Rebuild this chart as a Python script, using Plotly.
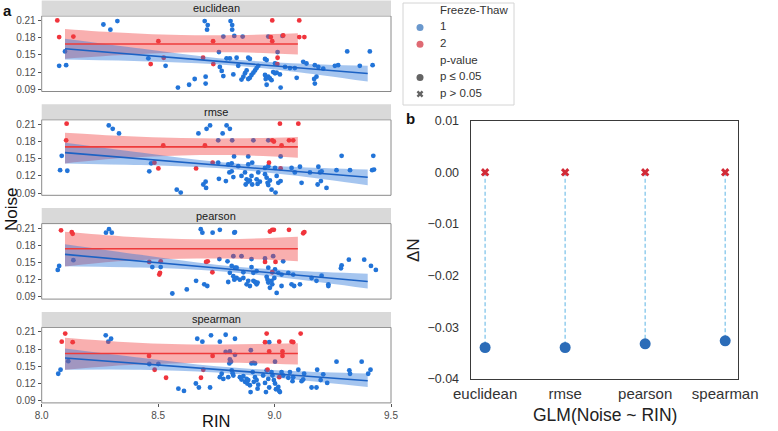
import plotly.graph_objects as go

# ---------------- data ----------------
metrics = ["euclidean", "rmse", "pearson", "spearman"]

# GLM slope of Noise ~ RIN per metric and Freeze-Thaw group (panel b)
delta_ft1 = [-0.0339, -0.0339, -0.0332, -0.0326]   # p <= 0.05
delta_ft2 = [0.0, 0.0, 0.0, 0.0]                   # p > 0.05

# scatter points (RIN, Noise)
euclidean_ft1 = [(8.100, 0.156), (8.075, 0.131), (8.105, 0.132), (8.265, 0.203), (8.295, 0.194), (8.325, 0.209),
    (8.458, 0.144), (8.532, 0.131), (8.585, 0.093), (8.633, 0.098), (8.657, 0.108), (8.704, 0.112), (8.704, 0.100),
    (8.700, 0.209), (8.713, 0.202), (8.710, 0.194), (8.811, 0.209), (8.818, 0.202), (8.818, 0.194), (8.780, 0.182),
    (8.827, 0.183), (8.863, 0.182), (8.973, 0.182), (9.034, 0.183), (8.761, 0.155), (9.013, 0.155), (9.312, 0.156),
    (9.409, 0.156), (9.421, 0.132), (8.794, 0.144), (8.808, 0.144), (8.837, 0.145), (8.887, 0.145), (8.894, 0.143),
    (8.959, 0.143), (8.966, 0.141), (9.002, 0.135), (9.045, 0.129), (9.066, 0.127), (9.087, 0.127), (9.123, 0.138),
    (9.137, 0.135), (9.173, 0.132), (9.188, 0.129), (9.209, 0.126), (9.259, 0.131), (9.273, 0.132), (9.366, 0.131),
    (8.765, 0.129), (8.773, 0.122), (8.780, 0.113), (8.823, 0.116), (8.844, 0.131), (8.858, 0.107), (8.866, 0.112),
    (8.873, 0.118), (8.880, 0.123), (8.887, 0.108), (8.894, 0.110), (8.901, 0.115), (8.909, 0.119), (8.916, 0.123),
    (8.923, 0.127), (8.930, 0.131), (8.959, 0.115), (8.962, 0.108), (8.966, 0.098), (8.973, 0.112), (8.980, 0.109),
    (8.987, 0.106), (8.994, 0.120), (9.002, 0.118), (9.009, 0.119), (9.023, 0.116), (9.026, 0.093), (9.095, 0.110),
    (9.170, 0.108), (9.173, 0.100), (9.180, 0.112)]
euclidean_ft2 = [(8.067, 0.210), (8.075, 0.181), (8.136, 0.182), (8.501, 0.174), (8.468, 0.134), (8.524, 0.145),
    (8.693, 0.145), (8.736, 0.174), (8.737, 0.134), (8.990, 0.210), (9.106, 0.210), (8.984, 0.181), (8.990, 0.174),
    (9.037, 0.184), (9.106, 0.181), (9.128, 0.181), (9.013, 0.145), (9.012, 0.134)]

rmse_ft1 = [(8.086, 0.155), (8.079, 0.130), (8.110, 0.129), (8.288, 0.208), (8.305, 0.202), (8.332, 0.194),
    (8.470, 0.142), (8.462, 0.128), (8.580, 0.096), (8.597, 0.091), (8.704, 0.110), (8.694, 0.105), (8.706, 0.099),
    (8.673, 0.194), (8.708, 0.202), (8.723, 0.208), (8.794, 0.208), (8.808, 0.202), (8.777, 0.194), (8.758, 0.182),
    (8.818, 0.182), (8.909, 0.182), (8.973, 0.182), (8.826, 0.154), (8.887, 0.154), (9.026, 0.154), (9.288, 0.155),
    (9.424, 0.155), (9.419, 0.130), (9.427, 0.131), (8.758, 0.143), (8.801, 0.140), (8.816, 0.142), (8.844, 0.137),
    (8.887, 0.140), (8.904, 0.143), (8.930, 0.126), (8.959, 0.134), (8.973, 0.137), (9.002, 0.134), (9.073, 0.134),
    (9.109, 0.136), (9.087, 0.126), (9.152, 0.126), (9.188, 0.136), (9.202, 0.128), (9.195, 0.126), (9.266, 0.130),
    (9.324, 0.130), (8.761, 0.115), (8.791, 0.111), (8.806, 0.126), (8.816, 0.128), (8.823, 0.118), (8.858, 0.120),
    (8.873, 0.126), (8.876, 0.105), (8.880, 0.114), (8.887, 0.110), (8.894, 0.112), (8.901, 0.120), (8.904, 0.105),
    (8.923, 0.114), (8.927, 0.106), (8.937, 0.110), (8.959, 0.123), (8.966, 0.117), (8.970, 0.108), (8.973, 0.104),
    (8.980, 0.112), (8.987, 0.096), (9.004, 0.091), (9.009, 0.120), (9.016, 0.108), (9.026, 0.111), (9.116, 0.108),
    (9.185, 0.105), (9.199, 0.111), (9.223, 0.099)]
rmse_ft2 = [(8.107, 0.211), (8.105, 0.182), (8.522, 0.173), (8.484, 0.143), (8.501, 0.133), (8.663, 0.133),
    (8.701, 0.173), (8.734, 0.143), (9.023, 0.211), (9.102, 0.211), (8.990, 0.182), (8.997, 0.180), (9.030, 0.173),
    (9.062, 0.182), (9.080, 0.182), (8.976, 0.143), (9.026, 0.133)]

pearson_ft1 = [(8.075, 0.144), (8.069, 0.137), (8.136, 0.154), (8.276, 0.202), (8.289, 0.208), (8.301, 0.202),
    (8.475, 0.142), (8.511, 0.142), (8.561, 0.096), (8.623, 0.103), (8.663, 0.118), (8.698, 0.112), (8.711, 0.109),
    (8.683, 0.208), (8.690, 0.202), (8.734, 0.202), (8.765, 0.207), (8.827, 0.202), (8.830, 0.203), (8.763, 0.156),
    (8.798, 0.152), (8.823, 0.161), (8.858, 0.161), (8.901, 0.156), (8.959, 0.157), (8.994, 0.161), (9.037, 0.152),
    (9.288, 0.145), (9.285, 0.140), (9.319, 0.155), (9.385, 0.155), (9.414, 0.144), (9.435, 0.137), (8.816, 0.144),
    (8.830, 0.141), (8.837, 0.141), (8.866, 0.133), (8.901, 0.142), (8.909, 0.132), (8.923, 0.135), (8.973, 0.141),
    (9.002, 0.138), (9.016, 0.132), (9.030, 0.129), (9.059, 0.132), (9.080, 0.129), (9.159, 0.123), (9.202, 0.127),
    (9.180, 0.118), (9.231, 0.112), (9.231, 0.109), (8.808, 0.132), (8.823, 0.126), (8.827, 0.120), (8.837, 0.123),
    (8.801, 0.116), (8.851, 0.120), (8.866, 0.123), (8.880, 0.112), (8.887, 0.118), (8.894, 0.109), (8.909, 0.118),
    (8.916, 0.116), (8.923, 0.112), (8.927, 0.115), (8.966, 0.125), (8.970, 0.120), (8.973, 0.115), (8.980, 0.106),
    (8.987, 0.118), (8.990, 0.112), (8.999, 0.123), (9.009, 0.097), (9.030, 0.109), (9.073, 0.112), (9.084, 0.109),
    (9.109, 0.112)]
pearson_ft2 = [(8.083, 0.206), (8.129, 0.203), (8.133, 0.200), (8.462, 0.151), (8.511, 0.152), (8.508, 0.132),
    (8.505, 0.129), (8.706, 0.151), (8.713, 0.152), (8.733, 0.133), (8.980, 0.204), (8.990, 0.207), (8.997, 0.207),
    (9.062, 0.207), (9.123, 0.201), (9.128, 0.203), (8.959, 0.151), (9.004, 0.151), (8.990, 0.133)]

spearman_ft1 = [(8.071, 0.137), (8.081, 0.144), (8.114, 0.159), (8.275, 0.204), (8.286, 0.193), (8.298, 0.198),
    (8.462, 0.154), (8.501, 0.154), (8.587, 0.111), (8.611, 0.107), (8.662, 0.120), (8.675, 0.113), (8.723, 0.113),
    (8.668, 0.198), (8.690, 0.193), (8.727, 0.204), (8.765, 0.193), (8.790, 0.205), (8.830, 0.198), (8.790, 0.175),
    (8.808, 0.176), (8.806, 0.155), (8.813, 0.158), (8.898, 0.178), (8.901, 0.155), (8.909, 0.156), (8.916, 0.155),
    (8.977, 0.192), (9.002, 0.158), (8.773, 0.137), (8.765, 0.131), (8.780, 0.128), (8.801, 0.131), (8.816, 0.143),
    (8.820, 0.138), (8.823, 0.134), (8.851, 0.131), (8.858, 0.127), (8.866, 0.133), (8.873, 0.123), (8.880, 0.128),
    (8.883, 0.120), (8.887, 0.126), (8.894, 0.117), (8.897, 0.105), (8.906, 0.140), (8.911, 0.123), (8.916, 0.131),
    (8.923, 0.126), (8.927, 0.111), (8.930, 0.118), (8.951, 0.134), (8.959, 0.121), (8.963, 0.105), (8.966, 0.143),
    (8.973, 0.128), (8.977, 0.113), (8.987, 0.140), (8.991, 0.134), (8.997, 0.126), (9.002, 0.120), (9.006, 0.110),
    (9.016, 0.114), (9.020, 0.107), (9.023, 0.105), (9.030, 0.140), (9.037, 0.134), (9.059, 0.130), (9.066, 0.140),
    (9.077, 0.124), (9.080, 0.131), (9.102, 0.144), (9.116, 0.124), (9.123, 0.127), (9.127, 0.137), (9.159, 0.113),
    (9.180, 0.113), (9.183, 0.144), (9.198, 0.126), (9.209, 0.136), (9.226, 0.121), (9.266, 0.158), (9.321, 0.143),
    (9.324, 0.137), (9.374, 0.158), (9.402, 0.137), (9.412, 0.144), (8.808, 0.162), (8.830, 0.170)]
spearman_ft2 = [(8.101, 0.207), (8.086, 0.193), (8.133, 0.192), (8.461, 0.168), (8.485, 0.144), (8.534, 0.130),
    (8.694, 0.144), (8.734, 0.168), (8.684, 0.130), (8.966, 0.207), (8.959, 0.192), (9.020, 0.193), (8.970, 0.144),
    (9.034, 0.176), (9.034, 0.168), (9.020, 0.131), (9.073, 0.193), (9.080, 0.192), (9.112, 0.207), (8.977, 0.176)]

points_ft1 = [euclidean_ft1, rmse_ft1, pearson_ft1, spearman_ft1]
points_ft2 = [euclidean_ft2, rmse_ft2, pearson_ft2, spearman_ft2]

# fitted lines and confidence bands
fit1_x = [8.1, 8.425, 8.75, 9.075, 9.4]
fit1_start = [0.1606, 0.1606, 0.1641, 0.1644]
fit1_end = [0.1177, 0.1176, 0.1170, 0.1248]
band1_upper = [[0.178, 0.161, 0.1447, 0.1356, 0.1310],
               [0.178, 0.161, 0.1447, 0.1358, 0.1310],
               [0.182, 0.1635, 0.1461, 0.1360, 0.1305],
               [0.181, 0.165, 0.150, 0.1418, 0.1375]]
band1_lower = [[0.1418, 0.1389, 0.1337, 0.1212, 0.1035],
               [0.1418, 0.1388, 0.1336, 0.1210, 0.1035],
               [0.1435, 0.1411, 0.1351, 0.1216, 0.1045],
               [0.144, 0.144, 0.1392, 0.1276, 0.114]]

fit2_x = [8.1, 8.35, 8.6, 8.85, 9.1]
fit2_level = [0.169, 0.1706, 0.174, 0.1722]
band2_upper = [[0.1953, 0.1885, 0.1845, 0.1845, 0.1876],
               [0.1953, 0.1895, 0.186, 0.1855, 0.188],
               [0.2035, 0.1955, 0.191, 0.191, 0.1947],
               [0.1998, 0.1925, 0.1885, 0.1885, 0.190]]
band2_lower = [[0.1435, 0.150, 0.154, 0.1545, 0.1506],
               [0.1418, 0.151, 0.1555, 0.156, 0.1518],
               [0.143, 0.1525, 0.1565, 0.1565, 0.1523],
               [0.144, 0.152, 0.1555, 0.156, 0.153]]

rin_ticks = [8.0, 8.5, 9.0, 9.5]
noise_ticks = [0.09, 0.12, 0.15, 0.18, 0.21]
dn_ticks = [0.01, 0.0, -0.01, -0.02, -0.03, -0.04]
legend_rows = ["Freeze-Thaw", "1", "2", "p-value", "p \u2264 0.05", "p > 0.05"]

# ---------------- styling ----------------
W, H = 778, 431
FONT = "Liberation Sans, Arial, sans-serif"
BLUE_PT, RED_PT = "#2274d8", "#f0343c"
BLUE_LN, RED_LN = "#1c62c4", "#ee3b3b"
BLUE_BAND, RED_BAND = "rgba(40,117,216,0.42)", "rgba(240,64,64,0.42)"
B_BLUE, B_RED = "#2b6cb8", "#d22b38"


def px(x):
    return x / W


def py(y):
    return 1 - y / H


fig = go.Figure()
LX0, LX1 = 41.7, 391.0
tops = [16.0, 119.8, 223.6, 327.4]
PH = 75.5
YR = [0.0862, 0.2178]
shapes, annotations = [], []

for i, m in enumerate(metrics):
    xa = "x" if i == 0 else f"x{i+1}"
    ya = "y" if i == 0 else f"y{i+1}"
    p1, p2 = points_ft1[i], points_ft2[i]
    fig.add_trace(go.Scatter(x=[p[0] for p in p1], y=[p[1] for p in p1], mode="markers",
                             marker=dict(color=BLUE_PT, size=4.8), xaxis=xa, yaxis=ya, showlegend=False))
    fig.add_trace(go.Scatter(x=[p[0] for p in p2], y=[p[1] for p in p2], mode="markers",
                             marker=dict(color=RED_PT, size=4.8), xaxis=xa, yaxis=ya, showlegend=False))
    # red band
    fig.add_trace(go.Scatter(x=fit2_x, y=band2_lower[i], mode="lines", line=dict(width=0, shape="spline"),
                             xaxis=xa, yaxis=ya, showlegend=False, hoverinfo="skip"))
    fig.add_trace(go.Scatter(x=fit2_x, y=band2_upper[i], mode="lines", line=dict(width=0, shape="spline"),
                             fill="tonexty", fillcolor=RED_BAND, xaxis=xa, yaxis=ya, showlegend=False,
                             hoverinfo="skip"))
    # blue band
    fig.add_trace(go.Scatter(x=fit1_x, y=band1_lower[i], mode="lines", line=dict(width=0, shape="spline"),
                             xaxis=xa, yaxis=ya, showlegend=False, hoverinfo="skip"))
    fig.add_trace(go.Scatter(x=fit1_x, y=band1_upper[i], mode="lines", line=dict(width=0, shape="spline"),
                             fill="tonexty", fillcolor=BLUE_BAND, xaxis=xa, yaxis=ya, showlegend=False,
                             hoverinfo="skip"))
    # fitted lines
    fig.add_trace(go.Scatter(x=[fit2_x[0], fit2_x[-1]], y=[fit2_level[i], fit2_level[i]], mode="lines",
                             line=dict(color=RED_LN, width=1.6), xaxis=xa, yaxis=ya, showlegend=False))
    fig.add_trace(go.Scatter(x=[fit1_x[0], fit1_x[-1]], y=[fit1_start[i], fit1_end[i]], mode="lines",
                             line=dict(color=BLUE_LN, width=1.6), xaxis=xa, yaxis=ya, showlegend=False))

    top = tops[i]
    dom_y = [py(top + PH), py(top)]
    last = i == len(metrics) - 1
    fig.update_layout(**{
        ("xaxis" if i == 0 else f"xaxis{i+1}"): dict(
            domain=[px(LX0), px(LX1)], anchor=ya, range=[8.0, 9.5], showgrid=False, zeroline=False,
            tickvals=rin_ticks if last else [], tickformat=".1f", ticks="outside" if last else "",
            ticklen=3, tickcolor="#555", showticklabels=last, automargin=False,
            tickfont=dict(family=FONT, size=10, color="#4d4d4d"), showline=False),
        ("yaxis" if i == 0 else f"yaxis{i+1}"): dict(
            domain=dom_y, anchor=xa, range=YR, showgrid=False, zeroline=False, tickvals=noise_ticks,
            tickformat=".2f", ticks="outside", ticklen=3, tickcolor="#555", automargin=False,
            tickfont=dict(family=FONT, size=10, color="#4d4d4d"), showline=False),
    })
    # panel border
    shapes.append(dict(type="rect", xref="paper", yref="paper", x0=px(LX0), x1=px(LX1),
                       y0=dom_y[0], y1=dom_y[1], line=dict(color="#8a8a8a", width=1), layer="above"))
    # strip
    shapes.append(dict(type="rect", xref="paper", yref="paper", x0=px(LX0), x1=px(LX1),
                       y0=py(top - 0.5), y1=py(top - 15.5), fillcolor="#d9d9d9", line=dict(width=0)))
    annotations.append(dict(text=m, xref="paper", yref="paper", x=px((LX0 + LX1) / 2), y=py(top - 8),
                            showarrow=False, font=dict(family=FONT, size=11, color="#1a1a1a"),
                            xanchor="center", yanchor="middle"))

# ---------------- panel b ----------------
stem_x, stem_y = [], []
for m, d1, d2 in zip(metrics, delta_ft1, delta_ft2):
    stem_x += [m, m, None]
    stem_y += [d2, d1, None]
fig.add_trace(go.Scatter(x=stem_x, y=stem_y, mode="lines",
                         line=dict(color="#8ccaec", width=1.4, dash="4px,2.5px"),
                         xaxis="x5", yaxis="y5", showlegend=False, hoverinfo="skip"))
fig.add_trace(go.Scatter(x=metrics, y=delta_ft1, mode="markers", marker=dict(color=B_BLUE, size=11),
                         xaxis="x5", yaxis="y5", showlegend=False))
fig.add_trace(go.Scatter(x=metrics, y=delta_ft2, mode="markers",
                         marker=dict(color=B_RED, size=7.5, symbol="x", line=dict(width=0)),
                         xaxis="x5", yaxis="y5", showlegend=False))
RX0, RX1, RY0, RY1 = 470.7, 738.0, 120.7, 379.0
fig.update_layout(
    xaxis5=dict(domain=[px(RX0), px(RX1)], anchor="y5", type="category", categoryorder="array",
                categoryarray=metrics, range=[-0.18, 3.16], showgrid=False, zeroline=False, ticks="",
                showline=True, mirror=True, linecolor="#3a3a3a", linewidth=1.3, ticklabelstandoff=1,
                automargin=False, tickfont=dict(family=FONT, size=15, color="#333")),
    yaxis5=dict(domain=[py(RY1), py(RY0)], anchor="x5", range=[-0.04, 0.01], tickvals=dn_ticks,
                tickformat=".2f", showgrid=False, zeroline=False, ticks="", showline=True, mirror=True,
                linecolor="#3a3a3a", linewidth=1.3, ticklabelstandoff=8, automargin=False,
                tickfont=dict(family=FONT, size=12.5, color="#333")),
)

# ---------------- legend (on a hidden helper axis) ----------------
LG0, LG1, LGT, LGB = 403.0, 514.0, 3.0, 105.0
marker_rows = [1, 2, 4, 5]
fig.add_trace(go.Scatter(x=[0] * len(marker_rows), y=marker_rows, mode="markers",
                         marker=dict(color=[B_BLUE, B_RED, "#222222", "#222222"], size=[7, 7, 7, 6],
                                     symbol=["circle", "circle", "circle", "x"], line=dict(width=0)),
                         xaxis="x6", yaxis="y6", showlegend=False, hoverinfo="skip"))
fig.add_trace(go.Scatter(x=[1] * len(legend_rows), y=list(range(len(legend_rows))), mode="text",
                         text=legend_rows, textposition="middle right",
                         textfont=dict(family=FONT, size=11.5, color="#333"),
                         xaxis="x6", yaxis="y6", showlegend=False, hoverinfo="skip"))
unit = 20.0
row_h = 16.6
fig.update_layout(
    xaxis6=dict(domain=[px(LG0), px(LG1)], anchor="y6", range=[-(420 - LG0) / unit, (LG1 - 420) / unit],
                visible=False, automargin=False),
    yaxis6=dict(domain=[py(LGB), py(LGT)], anchor="x6",
                range=[5 + (LGB - 94) / row_h, -(11 - LGT) / row_h], visible=False, automargin=False),
)
shapes.append(dict(type="rect", xref="x6 domain", yref="y6 domain", x0=0, x1=1, y0=0, y1=1,
                   line=dict(color="#d4d4d4", width=1), fillcolor="rgba(0,0,0,0)", layer="below"))

# ---------------- titles ----------------
annotations += [
    dict(text="<b>a</b>", x=px(7), y=py(11), font=dict(family=FONT, size=15, color="#111")),
    dict(text="<b>b</b>", x=px(411), y=py(119), font=dict(family=FONT, size=15, color="#111")),
    dict(text="Noise", x=px(11), y=py(210), textangle=-90, font=dict(family=FONT, size=17, color="#111")),
    dict(text="RIN", x=px(216), y=py(421), font=dict(family=FONT, size=16.5, color="#111")),
    dict(text="\u0394N", x=px(413), y=py(250), textangle=-90, font=dict(family=FONT, size=17, color="#222")),
    dict(text="GLM(Noise ~ RIN)", x=px(605), y=py(415), font=dict(family=FONT, size=17.5, color="#222")),
]
for a in annotations[-6:]:
    a.update(xref="paper", yref="paper", showarrow=False, xanchor="center", yanchor="middle")

fig.update_layout(width=W, height=H, margin=dict(l=0, r=0, t=0, b=0, autoexpand=False),
                  paper_bgcolor="white", plot_bgcolor="white", shapes=shapes, annotations=annotations,
                  showlegend=False, font=dict(family=FONT))
fig.write_html("out.html", config={"displayModeBar": False},
               post_script="document.body.style.margin='0';document.body.style.padding='0';")
